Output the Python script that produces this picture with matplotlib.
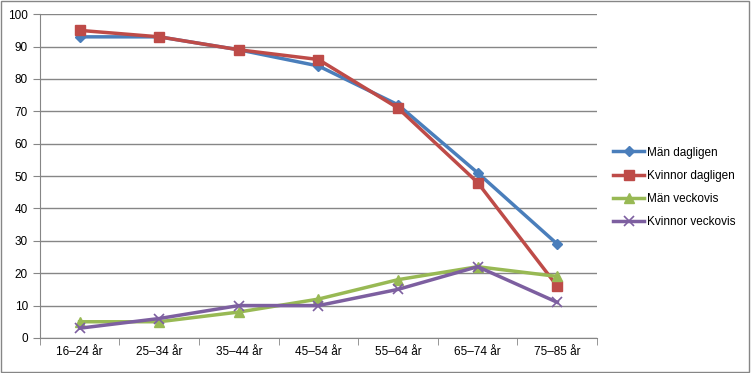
import numpy as np
import matplotlib
import matplotlib.pyplot as plt
from matplotlib.patches import Rectangle

matplotlib.use("Agg")

categories = ["16–24 år", "25–34 år", "35–44 år", "45–54 år", "55–64 år", "65–74 år", "75–85 år"]
man_dagligen = [93, 93, 89, 84, 72, 51, 29]
kvinnor_dagligen = [95, 93, 89, 86, 71, 48, 16]
man_veckovis = [5, 5, 8, 12, 18, 22, 19]
kvinnor_veckovis = [3, 6, 10, 10, 15, 22, 11]

series = [
    ("Män dagligen", man_dagligen, "#4A7EBB", "D", 5),
    ("Kvinnor dagligen", kvinnor_dagligen, "#BE4B48", "s", 7),
    ("Män veckovis", man_veckovis, "#98B954", "^", 7),
    ("Kvinnor veckovis", kvinnor_veckovis, "#7D5FA0", "x", 7),
]

plt.rcParams["font.family"] = ["Liberation Sans", "DejaVu Sans"]

fig = plt.figure(figsize=(7.51, 3.73), dpi=100)
ax = fig.add_axes([0.053, 0.094, 0.742, 0.868])

x = np.arange(len(categories))
for name, vals, color, marker, ms in series:
    ax.plot(x, vals, color=color, lw=2.5, marker=marker, markersize=ms,
            markeredgecolor=color, markeredgewidth=1 if marker != "x" else 1.2,
            label=name)

ax.set_xlim(-0.5, len(categories) - 0.5)
ax.set_ylim(0, 100)
ax.set_yticks(range(0, 101, 10))
ax.set_xticks(x)
ax.set_xticklabels(categories)
ax.set_xticks(np.arange(-0.5, len(categories)), minor=True)
ax.tick_params(axis="x", which="major", length=0, labelsize=8.5, pad=6)
ax.tick_params(axis="x", which="minor", length=5, color="#868686")
ax.tick_params(axis="y", length=5, color="#868686", labelsize=8.5)
ax.grid(axis="y", color="#868686", lw=1)
ax.set_axisbelow(True)
for side in ("top", "right"):
    ax.spines[side].set_visible(False)
for side in ("left", "bottom"):
    ax.spines[side].set_color("#868686")

ax.legend(loc="center left", bbox_to_anchor=(1.01, 0.465), frameon=False,
          fontsize=8.5, handlelength=2.6, labelspacing=0.95, handletextpad=0.3)

fig.patches.append(Rectangle((0.001, 0.002), 0.997, 0.995, transform=fig.transFigure,
                             fill=False, edgecolor="#868686", lw=1))

fig.savefig("out.png", dpi=100)
